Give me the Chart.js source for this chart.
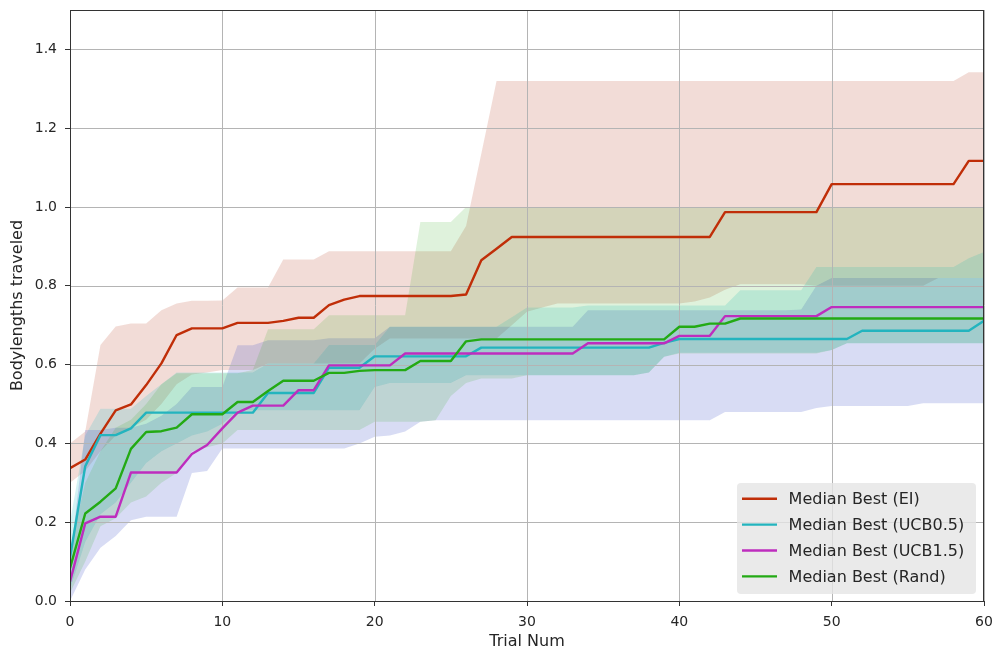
<!DOCTYPE html>
<html><head><meta charset="utf-8">
<script src="https://cdn.jsdelivr.net/npm/chart.js@4.4.0/dist/chart.umd.min.js"></script>
<style>html,body{margin:0;padding:0;background:#fff;}</style>
</head><body>
<canvas id="c" width="995" height="654"></canvas>
<script>
// ---- data ----
const trials = [0,1,2,3,4,5,6,7,8,9,10,11,12,13,14,15,16,17,18,19,20,21,22,23,24,25,26,27,28,29,30,31,32,33,34,35,36,37,38,39,40,41,42,43,44,45,46,47,48,49,50,51,52,53,54,55,56,57,58,59,60];
const xTicks = [0,10,20,30,40,50,60];
const yTicks = [0.0,0.2,0.4,0.6,0.8,1.0,1.2,1.4];
const seriesNames = ['Median Best (EI)','Median Best (UCB0.5)','Median Best (UCB1.5)','Median Best (Rand)'];

const medEI = [0.337,0.359,0.425,0.484,0.499,0.548,0.603,0.675,0.692,0.692,
 0.692,0.706,0.706,0.706,0.711,0.719,0.719,0.751,0.765,0.774,
 0.774,0.774,0.774,0.774,0.774,0.774,0.778,0.865,0.894,0.924,
 0.924,0.924,0.924,0.924,0.924,0.924,0.924,0.924,0.924,0.924,
 0.924,0.924,0.924,0.987,0.987,0.987,0.987,0.987,0.987,0.987,
 1.058,1.058,1.058,1.058,1.058,1.058,1.058,1.058,1.058,1.117,
 1.117];
const hiEI = [0.40,0.43,0.65,0.697,0.704,0.704,0.738,0.755,0.762,0.762,
 0.763,0.796,0.796,0.796,0.867,0.867,0.867,0.888,0.888,0.888,
 0.888,0.888,0.888,0.888,0.888,0.888,0.952,1.135,1.32,1.32,
 1.32,1.32,1.32,1.32,1.32,1.32,1.32,1.32,1.32,1.32,
 1.32,1.32,1.32,1.32,1.32,1.32,1.32,1.32,1.32,1.32,
 1.32,1.32,1.32,1.32,1.32,1.32,1.32,1.32,1.32,1.342,
 1.342];
const loEI = [0.30,0.33,0.38,0.42,0.44,0.46,0.50,0.55,0.575,0.58,
 0.586,0.586,0.586,0.603,0.603,0.603,0.603,0.603,0.603,0.603,
 0.64,0.666,0.666,0.666,0.666,0.666,0.666,0.666,0.666,0.70,
 0.734,0.745,0.755,0.755,0.755,0.755,0.755,0.755,0.755,0.755,
 0.755,0.76,0.77,0.79,0.804,0.804,0.804,0.804,0.804,0.80,
 0.80,0.80,0.80,0.80,0.80,0.80,0.80,0.82,0.82,0.82,
 0.82];

const medU05 = [0.11,0.342,0.421,0.421,0.438,0.478,0.478,0.478,0.478,0.478,
 0.478,0.478,0.478,0.528,0.528,0.528,0.528,0.592,0.592,0.592,
 0.621,0.621,0.621,0.621,0.621,0.621,0.621,0.643,0.643,0.643,
 0.643,0.643,0.643,0.643,0.643,0.643,0.643,0.643,0.643,0.655,
 0.665,0.665,0.665,0.665,0.665,0.665,0.665,0.665,0.665,0.665,
 0.665,0.665,0.686,0.686,0.686,0.686,0.686,0.686,0.686,0.686,
 0.711];
const hiU05 = [0.20,0.42,0.488,0.488,0.488,0.52,0.55,0.58,0.58,0.58,
 0.58,0.58,0.58,0.603,0.603,0.603,0.603,0.65,0.65,0.65,
 0.65,0.696,0.696,0.696,0.696,0.696,0.696,0.696,0.696,0.72,
 0.745,0.745,0.745,0.745,0.75,0.75,0.75,0.75,0.75,0.75,
 0.75,0.75,0.75,0.75,0.789,0.789,0.789,0.789,0.789,0.848,
 0.848,0.848,0.848,0.848,0.848,0.848,0.848,0.848,0.848,0.87,
 0.886];
const loU05 = [0.03,0.15,0.22,0.25,0.30,0.35,0.38,0.40,0.42,0.43,
 0.45,0.484,0.484,0.484,0.484,0.484,0.484,0.484,0.484,0.484,
 0.543,0.553,0.553,0.553,0.553,0.553,0.573,0.573,0.573,0.573,
 0.573,0.573,0.573,0.573,0.573,0.573,0.573,0.573,0.58,0.62,
 0.63,0.63,0.63,0.63,0.63,0.63,0.63,0.63,0.63,0.63,
 0.637,0.654,0.654,0.654,0.654,0.654,0.654,0.654,0.654,0.654,
 0.654];

const medU15 = [0.049,0.197,0.214,0.214,0.326,0.326,0.326,0.326,0.373,0.396,
 0.438,0.478,0.496,0.496,0.496,0.535,0.535,0.598,0.598,0.598,
 0.598,0.598,0.628,0.628,0.628,0.628,0.628,0.628,0.628,0.628,
 0.628,0.628,0.628,0.628,0.654,0.654,0.654,0.654,0.654,0.654,
 0.673,0.673,0.673,0.723,0.723,0.723,0.723,0.723,0.723,0.723,
 0.746,0.746,0.746,0.746,0.746,0.746,0.746,0.746,0.746,0.746,
 0.746];
const hiU15 = [0.10,0.434,0.434,0.44,0.44,0.45,0.47,0.50,0.543,0.543,
 0.543,0.649,0.649,0.662,0.662,0.662,0.662,0.667,0.667,0.667,
 0.667,0.696,0.696,0.696,0.696,0.696,0.696,0.696,0.696,0.696,
 0.696,0.696,0.696,0.696,0.738,0.738,0.738,0.738,0.738,0.738,
 0.738,0.738,0.738,0.738,0.738,0.738,0.738,0.738,0.74,0.80,
 0.82,0.82,0.82,0.82,0.82,0.82,0.82,0.82,0.82,0.82,
 0.82];
const loU15 = [0.0,0.08,0.135,0.165,0.205,0.214,0.214,0.214,0.325,0.33,
 0.387,0.387,0.387,0.387,0.387,0.387,0.387,0.387,0.387,0.40,
 0.417,0.42,0.43,0.455,0.459,0.459,0.459,0.459,0.459,0.459,
 0.459,0.459,0.459,0.459,0.459,0.459,0.459,0.459,0.459,0.459,
 0.459,0.459,0.459,0.48,0.48,0.48,0.48,0.48,0.48,0.49,
 0.495,0.495,0.495,0.495,0.495,0.495,0.502,0.502,0.502,0.502,
 0.502];

const medRand = [0.083,0.222,0.252,0.286,0.386,0.429,0.431,0.440,0.474,0.474,
 0.474,0.505,0.505,0.533,0.559,0.559,0.559,0.579,0.579,0.584,
 0.586,0.586,0.586,0.609,0.609,0.609,0.659,0.664,0.664,0.664,
 0.664,0.664,0.664,0.664,0.664,0.664,0.664,0.664,0.664,0.664,
 0.696,0.696,0.704,0.704,0.717,0.717,0.717,0.717,0.717,0.717,
 0.717,0.717,0.717,0.717,0.717,0.717,0.717,0.717,0.717,0.717,
 0.717];
const hiRand = [0.13,0.30,0.38,0.44,0.46,0.50,0.55,0.578,0.578,0.578,
 0.578,0.578,0.586,0.69,0.69,0.69,0.69,0.725,0.725,0.725,
 0.725,0.725,0.725,0.962,0.962,0.962,1.0,1.0,1.0,1.0,
 1.0,1.0,1.0,1.0,1.0,1.0,1.0,1.0,1.0,1.0,
 1.0,1.0,1.0,1.0,1.0,1.0,1.0,1.0,1.0,1.0,
 1.0,1.0,1.0,1.0,1.0,1.0,1.0,1.0,1.0,1.0,
 1.0];
const loRand = [0.02,0.10,0.19,0.21,0.25,0.265,0.30,0.325,0.38,0.39,
 0.40,0.434,0.434,0.434,0.434,0.434,0.434,0.434,0.434,0.434,
 0.455,0.455,0.455,0.455,0.459,0.52,0.553,0.565,0.565,0.565,
 0.573,0.573,0.573,0.573,0.573,0.573,0.573,0.573,0.58,0.62,
 0.628,0.628,0.628,0.628,0.628,0.628,0.628,0.628,0.628,0.628,
 0.637,0.654,0.654,0.654,0.654,0.654,0.654,0.654,0.654,0.654,
 0.654];

// ---- styles ----
const lineColors = ['rgb(192,46,8)','rgb(35,180,190)','rgb(190,45,190)','rgb(35,170,20)'];
const fillColors = ['rgba(180,50,20,0.17)','rgba(40,190,200,0.2)','rgba(60,80,200,0.2)','rgba(40,170,20,0.15)'];
const meds = [medEI, medU05, medU15, medRand];
const his = [hiEI, hiU05, hiU15, hiRand];
const los = [loEI, loU05, loU15, loRand];

const pts = arr => trials.map((t,i)=>({x:t, y:arr[i]}));
const datasets = [];
meds.forEach((m,k)=>{
  datasets.push({label: seriesNames[k], isLine:true, data: pts(m), borderColor: lineColors[k], backgroundColor: lineColors[k],
    borderWidth: 2.4, pointRadius: 0, fill: false, tension: 0, order: 3-k});
});
his.forEach((h,k)=>{
  datasets.push({label: 'lo'+k, data: pts(los[k]), borderWidth: 0, borderColor:'rgba(0,0,0,0)', pointRadius: 0, fill: false, order: 20-k});
  datasets.push({label: 'hi'+k, data: pts(h), borderWidth: 0, borderColor:'rgba(0,0,0,0)', pointRadius: 0, fill: '-1', backgroundColor: fillColors[k], order: 20-k});
});

const FONT = 'DejaVu Sans';
const GRID = '#b4b4b4';
const frame = {
  id:'frame',
  beforeDatasetDraw(chart, args){
    // grid lines above the bands, below the median lines (as matplotlib does)
    if (args.index !== 0 + 0 && !(chart.data.datasets[args.index].isLine && chart.data.datasets[args.index].order === 3)) return;
    if (!chart.data.datasets[args.index].isLine) return;
    const {ctx, chartArea:a, scales} = chart;
    ctx.save(); ctx.strokeStyle = GRID; ctx.lineWidth = 1;
    xTicks.forEach(v=>{ const px = Math.round(scales.x.getPixelForValue(v))+0.5; ctx.beginPath(); ctx.moveTo(px,a.top); ctx.lineTo(px,a.bottom); ctx.stroke(); });
    yTicks.forEach(v=>{ const py = Math.round(scales.y.getPixelForValue(v))+0.5; ctx.beginPath(); ctx.moveTo(a.left,py); ctx.lineTo(a.right,py); ctx.stroke(); });
    ctx.restore();
  },
  afterDatasetsDraw(chart){
    const {ctx, chartArea:a} = chart;
    ctx.save(); ctx.strokeStyle='#333'; ctx.lineWidth=1;
    ctx.strokeRect(Math.round(a.left)+0.5, Math.round(a.top)+0.5, Math.round(a.right-a.left)-1, Math.round(a.bottom-a.top));
    ctx.restore();
  },
  afterDraw(chart){
    const {ctx, chartArea:a} = chart;
    const items = chart.data.datasets.filter(d=>d.isLine);
    const w = 239, h = 111, rowH = 25.9;
    const x = a.right - 8 - w, y = a.bottom - 7 - h;
    ctx.save();
    ctx.fillStyle = 'rgba(229,229,229,0.8)';
    ctx.beginPath();
    if (ctx.roundRect) ctx.roundRect(x, y, w, h, 4); else ctx.rect(x,y,w,h);
    ctx.fill();
    ctx.font = '16px "'+FONT+'"';
    ctx.textBaseline = 'middle';
    ctx.fillStyle = '#262626';
    items.forEach((d,i)=>{
      const cy = y + 15.7 + i*rowH;
      ctx.strokeStyle = d.borderColor; ctx.lineWidth = 2.4;
      ctx.beginPath(); ctx.moveTo(x+5, cy); ctx.lineTo(x+40, cy); ctx.stroke();
      ctx.fillText(d.label, x+51.6, cy+1);
    });
    ctx.restore();
  }
};

new Chart(document.getElementById('c'), {
  type: 'line',
  data: { datasets },
  options: {
    responsive: false, devicePixelRatio: 1, animation: false,
    layout: { padding: { top: 10, right: 11, left: 0, bottom: 0 } },
    plugins: { legend: { display: false }, tooltip: { enabled: false }, filler: { propagate: false } },
    elements: { line: { borderCapStyle: 'butt', borderJoinStyle: 'round' } },
    scales: {
      x: {
        type: 'linear', min: 0, max: 60,
        afterFit(s){ s.height = 53; s.paddingLeft = 0; s.paddingRight = 0; },
        afterBuildTicks(s){ s.ticks = xTicks.map(v=>({value:v})); },
        ticks: { font: { family: FONT, size: 14 }, color: '#262626', padding: 8, maxRotation: 0 },
        grid: { display: true, color: 'rgba(0,0,0,0)', lineWidth: 1, drawTicks: true, tickLength: 5, tickColor: '#333' },
        border: { display: false },
        title: { display: true, text: 'Trial Num', font: { family: FONT, size: 16 }, color: '#262626', padding: { top: 0, bottom: 3 } }
      },
      y: {
        type: 'linear', min: 0, max: 1.5,
        afterFit(s){ s.width = 70; s.paddingTop = 0; s.paddingBottom = 0; },
        afterBuildTicks(s){ s.ticks = yTicks.map(v=>({value:v})); },
        ticks: { font: { family: FONT, size: 14 }, color: '#262626', padding: 8, callback: v => v.toFixed(1) },
        grid: { display: true, color: 'rgba(0,0,0,0)', lineWidth: 1, drawTicks: true, tickLength: 5, tickColor: '#333' },
        border: { display: false },
        title: { display: true, text: 'Bodylengths traveled', font: { family: FONT, size: 16 }, color: '#262626', padding: { top: 8, bottom: 0 } }
      }
    }
  },
  plugins: [frame]
});
</script>
</body></html>
